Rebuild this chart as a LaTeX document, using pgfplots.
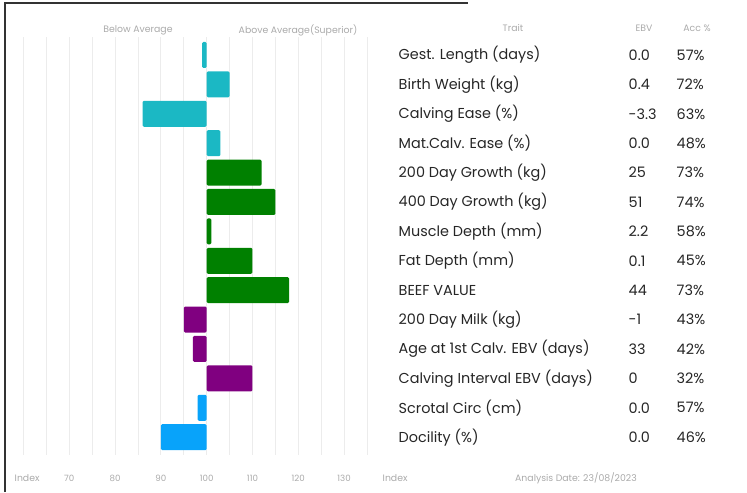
\documentclass[border=0pt]{standalone}
\usepackage{pgfplots}
\usepackage{pgfplotstable}
\pgfplotsset{compat=1.18}
\usepackage{fontspec}
\setmainfont{Poppins}
\definecolor{tealbar}{RGB}{27,184,196}
\definecolor{greenbar}{RGB}{0,128,0}
\definecolor{purplebar}{RGB}{128,0,128}
\definecolor{bluebar}{RGB}{8,163,250}
\definecolor{faint}{RGB}{170,170,170}
\definecolor{gridc}{RGB}{236,236,236}

% index value per trait row (row 0 = top)
\pgfplotstableread{
row idx
0 99
1 105
2 86
3 103
}\calving
\pgfplotstableread{
row idx
4 112
5 115
6 101
7 110
8 118
}\growth
\pgfplotstableread{
row idx
9 95
10 97
11 110
}\fertility
\pgfplotstableread{
row idx
12 98
13 90
}\temper

\begin{document}
\begin{tikzpicture}[x=0.75pt,y=-0.75pt]
\path (0,0) rectangle (747,492);
\draw[line width=1.2pt,black!80] (5,492) -- (5,3) -- (468,3);
\coordinate (plotsw) at (23.5,454.8);

\begin{axis}[
    at={(plotsw)}, anchor=south west,
    scale only axis,
    width=257.6pt, height=313.1pt,
    xmin=-40, xmax=35,
    ymin=-0.6, ymax=13.6,
    y dir=reverse,
    axis line style={draw=none},
    xtick={-30,-20,...,30},
    xticklabels={70,80,90,100,110,120,130},
    minor xtick={-40,-35,...,35},
    xmajorgrids, xminorgrids,
    grid style={gridc, line width=0.6pt},
    minor grid style={gridc, line width=0.6pt},
    major tick length=0pt, minor tick length=0pt,
    ytick=\empty,
    xticklabel style={font=\fontsize{6.5}{7}\selectfont, text=faint, yshift=-12pt},
    xbar, bar shift=0pt, bar width=19.5pt,
    clip=false,
]
\addplot[draw=none, fill=tealbar, rounded corners=1pt] table[x expr=\thisrow{idx}-100, y=row] {\calving};
\addplot[draw=none, fill=greenbar, rounded corners=1pt] table[x expr=\thisrow{idx}-100, y=row] {\growth};
\addplot[draw=none, fill=purplebar, rounded corners=1pt] table[x expr=\thisrow{idx}-100, y=row] {\fertility};
\addplot[draw=none, fill=bluebar, rounded corners=1pt] table[x expr=\thisrow{idx}-100, y=row] {\temper};
\end{axis}

% column headers
\begin{scope}[font=\fontsize{7}{8}\selectfont, text=faint]
\node at (138,30) {Below Average};
\node at (298,30) {Above Average(Superior)};
\node at (513,28) {Trait};
\node at (644,28) {EBV};
\node at (697,28) {Acc \%};
\node[anchor=west] at (10,478) {Index};
\node[anchor=west] at (378,478) {Index};
\node at (576,478) {Analysis Date: 23/08/2023};
\end{scope}

% trait table
\begin{scope}[font=\fontsize{10.8}{12}\selectfont, text=black!85]
\foreach \i/\t/\e/\a in {
  0/Gest. Length (days)/0.0/57\%,
  1/Birth Weight (kg)/0.4/72\%,
  2/Calving Ease (\%)/-3.3/63\%,
  3/Mat.Calv. Ease (\%)/0.0/48\%,
  4/200 Day Growth (kg)/25/73\%,
  5/400 Day Growth (kg)/51/74\%,
  6/Muscle Depth (mm)/2.2/58\%,
  7/Fat Depth (mm)/0.1/45\%,
  8/BEEF VALUE/44/73\%,
  9/200 Day Milk (kg)/-1/43\%,
  10/Age at 1st Calv. EBV (days)/33/42\%,
  11/Calving Interval EBV (days)/0/32\%,
  12/Scrotal Circ (cm)/0.0/57\%,
  13/Docility (\%)/0.0/46\%}{
  \node[anchor=west] at (394,55+29.4*\i) {\t};
  \node[anchor=west] at (624,55+29.4*\i) {\e};
  \node[anchor=west] at (672,55+29.4*\i) {\a};
}
\end{scope}
\end{tikzpicture}
\end{document}
